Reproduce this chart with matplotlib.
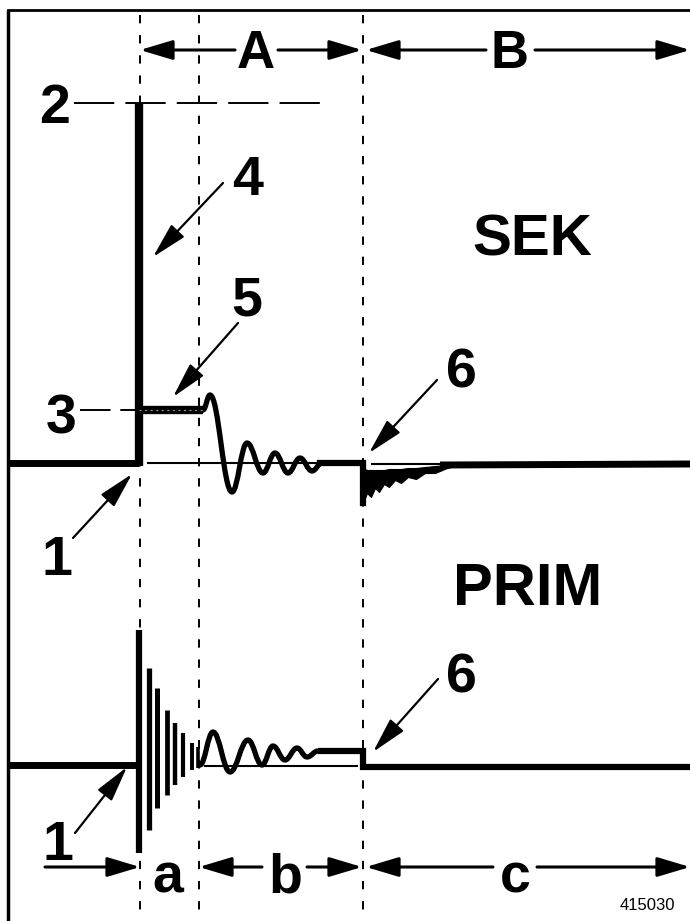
import matplotlib
matplotlib.use("Agg")
import matplotlib.pyplot as plt
from matplotlib.path import Path
from matplotlib.patches import PathPatch

plt.rcParams["font.family"] = ["Liberation Sans", "DejaVu Sans"]
plt.rcParams["lines.scale_dashes"] = False

W, H = 690, 921

# section markers (vertical dashed lines)
SECTION_X = [140, 199, 363]

# secondary trace
SEK_BASE_Y = 463
SEK_FIRE_X, SEK_FIRE_TOP = 139, 103          # firing line, level 2
SEK_SPARK_X = [139, 203]                      # spark line, level 3
SEK_SPARK_Y = 410
SEK_WAVE_X = [203, 210, 232, 247, 263, 275, 288, 300, 312, 322]
SEK_WAVE_Y = [410, 395, 492, 443, 473, 453, 473, 458, 471, 463]
SEK_CLOSE_X = [320, 363, 363]
SEK_CLOSE_Y = [463, 463, 503]
SEK_DECAY_X = [363, 367, 371, 375, 379, 384, 389, 395, 401, 408, 416, 425, 435, 447, 460]
SEK_DECAY_LO = [503, 493, 497, 488, 492, 484, 487, 480, 483, 477, 479, 473, 473, 468, 465]
SEK_DECAY_HI = [468, 470, 470, 470, 470, 470, 469, 469, 469, 468, 468, 467, 466, 465, 464]

# primary trace
PRIM_BASE_Y = 765
PRIM_OSC_X = [139, 149, 157, 167, 175, 183, 192, 198]
PRIM_OSC_TOP = [630, 668, 688, 710, 723, 733, 743, 747]
PRIM_OSC_BOT = [853, 830, 808, 795, 785, 777, 770, 768]
PRIM_OSC_LW = [4.5, 3.8, 3.6, 3.4, 3.2, 3.0, 2.8, 2.6]
PRIM_WAVE_X = [200, 213, 230, 248, 262, 273, 285, 297, 307, 318]
PRIM_WAVE_Y = [765, 732, 772, 740, 765, 746, 760, 748, 757, 751]
PRIM_TAIL_X = [318, 363, 363, 690]
PRIM_TAIL_Y = [751, 751, 767, 767]

# numbered callouts: label, label x, baseline y, arrow tail, arrow tip
CALLOUTS = [
    ("4", 248, 195, (223, 183), (153, 257)),
    ("5", 247, 315, (238, 323), (173, 397)),
    ("6", 461, 387, (437, 380), (369, 453)),
    ("1", 57, 575, (73, 538), (132, 474)),
    ("6", 461, 692, (438, 679), (373, 752)),
    ("1", 58, 860, (75, 833), (127, 767)),
]

# timing spans: label, label x, left line end, right line end, left tip, right tip
TOP_SPANS = [("A", 256, 235, 278, 140, 362), ("B", 509, 486, 535, 366, 690)]
BOTTOM_SPANS = [("b", 285, 262, 307, 199, 362), ("c", 515, 493, 537, 366, 690)]


def wave_path(xs, ys, k=0.4):
    verts = [(xs[0], ys[0])]
    codes = [Path.MOVETO]
    for x0, y0, x1, y1 in zip(xs[:-1], ys[:-1], xs[1:], ys[1:]):
        dx = x1 - x0
        verts += [(x0 + k * dx, y0), (x1 - k * dx, y1), (x1, y1)]
        codes += [Path.CURVE4] * 3
    return Path(verts, codes)


def arrow(ax, tail, tip, lw=1.6, hl=2.2, hw=0.55):
    ax.annotate("", xy=tip, xytext=tail,
                arrowprops=dict(arrowstyle=f"-|>,head_length={hl},head_width={hw}",
                                lw=lw, color="black", mutation_scale=10,
                                shrinkA=0, shrinkB=0))


fig = plt.figure(figsize=(W / 100, H / 100), dpi=100)
ax = fig.add_axes([0, 0, 1, 1])
ax.set_xlim(0, W)
ax.set_ylim(H, 0)
ax.axis("off")

# frame
ax.plot([8, 8], [10, H], color="black", lw=2.5, solid_capstyle="butt")
ax.plot([8, W], [10, 10], color="black", lw=2.0)

for x in SECTION_X:
    ax.plot([x, x], [15, H], color="black", lw=1.4, dashes=(6, 8.5), zorder=1)

# level 2 / level 3 reference lines
ax.plot([74, 330], [SEK_FIRE_TOP, SEK_FIRE_TOP], color="black", lw=1.4, dashes=(29, 8))
ax.plot([80, 136], [SEK_SPARK_Y, SEK_SPARK_Y], color="black", lw=1.4, dashes=(22, 7))

# secondary
ax.plot([8, SEK_FIRE_X], [SEK_BASE_Y, SEK_BASE_Y], color="black", lw=5, solid_capstyle="butt")
ax.plot([SEK_FIRE_X, SEK_FIRE_X], [SEK_BASE_Y + 3, SEK_FIRE_TOP], color="black", lw=6,
        solid_capstyle="butt")
ax.plot(SEK_SPARK_X, [SEK_SPARK_Y] * 2, color="black", lw=6, solid_capstyle="butt")
ax.plot(SEK_SPARK_X, [SEK_SPARK_Y] * 2, color="white", lw=0.8, alpha=0.6,
        dashes=(1.5, 2.5))
ax.plot([148, 322], [SEK_BASE_Y, SEK_BASE_Y], color="black", lw=1.5)
ax.add_patch(PathPatch(wave_path(SEK_WAVE_X, SEK_WAVE_Y), fill=False, lw=3.8,
                       capstyle="round", joinstyle="round"))
ax.plot(SEK_CLOSE_X, SEK_CLOSE_Y, color="black", lw=4.5, solid_joinstyle="miter")
ax.fill_between(SEK_DECAY_X, SEK_DECAY_LO, SEK_DECAY_HI, color="black", lw=0.8)
ax.plot([372, 440], [SEK_BASE_Y + 1, SEK_BASE_Y + 1], color="black", lw=1.5)
ax.plot([440, W], [SEK_BASE_Y + 2, SEK_BASE_Y + 1], color="black", lw=5, solid_capstyle="butt")

# primary
ax.plot([8, PRIM_OSC_X[0]], [PRIM_BASE_Y, PRIM_BASE_Y], color="black", lw=5,
        solid_capstyle="butt")
ax.vlines(PRIM_OSC_X, PRIM_OSC_TOP, PRIM_OSC_BOT, colors="black", lw=PRIM_OSC_LW)
ax.plot([205, 357], [PRIM_BASE_Y + 1, PRIM_BASE_Y + 1], color="black", lw=1.5)
ax.add_patch(PathPatch(wave_path(PRIM_WAVE_X, PRIM_WAVE_Y), fill=False, lw=3.8,
                       capstyle="round", joinstyle="round"))
ax.plot(PRIM_TAIL_X, PRIM_TAIL_Y, color="black", lw=4.5, solid_joinstyle="miter",
        solid_capstyle="butt")

# level labels
ax.text(55, 123, "2", fontsize=40, fontweight="bold", ha="center", va="baseline")
ax.text(61, 433, "3", fontsize=40, fontweight="bold", ha="center", va="baseline")

for label, lx, ly, tail, tip in CALLOUTS:
    ax.text(lx, ly, label, fontsize=40, fontweight="bold", ha="center", va="baseline")
    arrow(ax, tail, tip)

ax.text(532, 255, "SEK", fontsize=42, fontweight="bold", ha="center", va="baseline")
ax.text(528, 605, "PRIM", fontsize=43, fontweight="bold", ha="center", va="baseline")

# timing spans
for label, lx, l_end, r_end, l_tip, r_tip in TOP_SPANS:
    ax.text(lx, 68, label, fontsize=38, fontweight="bold", ha="center", va="baseline")
    arrow(ax, (l_end, 50), (l_tip, 50), lw=2.2, hl=2.0, hw=0.6)
    arrow(ax, (r_end, 50), (r_tip, 50), lw=2.2, hl=2.0, hw=0.6)

row_y = 867
ax.text(168, 892, "a", fontsize=40, fontweight="bold", ha="center", va="baseline")
arrow(ax, (45, row_y), (140, row_y), lw=2.2, hl=2.0, hw=0.6)
for label, lx, l_end, r_end, l_tip, r_tip in BOTTOM_SPANS:
    ax.text(lx, 892, label, fontsize=40, fontweight="bold", ha="center", va="baseline")
    arrow(ax, (l_end, row_y), (l_tip, row_y), lw=2.2, hl=2.0, hw=0.6)
    arrow(ax, (r_end, row_y), (r_tip, row_y), lw=2.2, hl=2.0, hw=0.6)

ax.text(647, 910, "415030", fontsize=12, ha="center", va="baseline")

fig.savefig("out.png", dpi=100)
